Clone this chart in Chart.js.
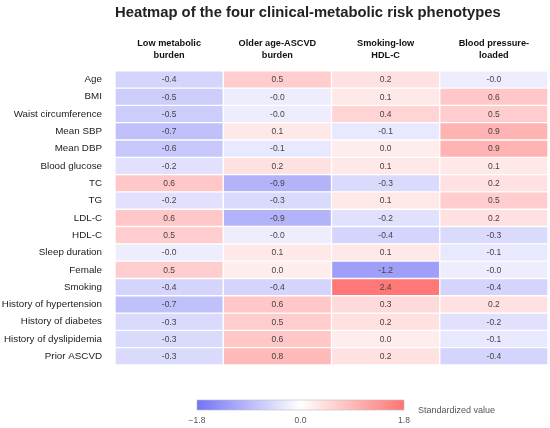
<!DOCTYPE html>
<html lang="en">
<head>
    <meta charset="UTF-8">
    <title>Heatmap of the four clinical-metabolic risk phenotypes</title>
    <script src="https://cdn.jsdelivr.net/npm/chart.js"></script>
    <style>
        html, body { margin: 0; padding: 0; background: #fff; }
        #wrap { width: 550px; height: 428px; }
    </style>
</head>
<body>
    <div id="wrap"><canvas id="myChart"></canvas></div>
    <script>
    const variables = ['Age', 'BMI', 'Waist circumference', 'Mean SBP', 'Mean DBP', 'Blood glucose',
        'TC', 'TG', 'LDL-C', 'HDL-C', 'Sleep duration', 'Female', 'Smoking',
        'History of hypertension', 'History of diabetes', 'History of dyslipidemia', 'Prior ASCVD'];

    const phenotypes = [
        ['Low metabolic', 'burden'],
        ['Older age-ASCVD', 'burden'],
        ['Smoking-low', 'HDL-C'],
        ['Blood pressure-', 'loaded']
    ];

    // standardized values per phenotype, same order as variables
    const lowMetabolic = [-0.4, -0.5, -0.5, -0.7, -0.6, -0.2, 0.6, -0.2, 0.6, 0.5, -0.02, 0.5, -0.4, -0.7, -0.3, -0.3, -0.3];
    const olderAscvd   = [0.5, -0.02, -0.02, 0.1, -0.1, 0.2, -0.9, -0.3, -0.9, -0.02, 0.1, 0.02, -0.4, 0.6, 0.5, 0.6, 0.8];
    const smokingHdl   = [0.2, 0.1, 0.4, -0.1, 0.02, 0.1, -0.3, 0.1, -0.2, -0.4, 0.1, -1.2, 2.4, 0.3, 0.2, 0.02, 0.2];
    const bpLoaded     = [-0.02, 0.6, 0.5, 0.9, 0.9, 0.1, 0.2, 0.5, 0.2, -0.3, -0.1, -0.02, -0.4, 0.2, -0.2, -0.1, -0.4];

    const columns = [lowMetabolic, olderAscvd, smokingHdl, bpLoaded];

    const vmin = -1.8, vmax = 1.8;
    const colorbarTicks = [-1.8, 0.0, 1.8];

    // blue-white-red, faded towards white
    function rgbFor(v, strength) {
        const d = Math.round(140 * strength);
        if (v < 0) return `rgb(${255 - d}, ${255 - d}, ${255 - Math.round(d * 0.06)})`;
        return `rgb(255, ${255 - d}, ${255 - d})`;
    }
    function cellColor(v) {
        const t = Math.min(1, Math.abs(v) / vmax);
        return rgbFor(v, v === 0 ? 0 : 0.12 + 0.85 * t);
    }
    function barColor(v) {
        return rgbFor(v, Math.min(1, Math.abs(v) / vmax));
    }

    const datasets = columns.map((vals, c) => ({
        label: phenotypes[c].join(' '),
        data: vals.map(() => [c, c + 1]),
        values: vals,
        backgroundColor: vals.map(cellColor),
        borderColor: '#ffffff',
        borderWidth: 1,
        borderSkipped: false,
        grouped: false,
        barPercentage: 1,
        categoryPercentage: 1
    }));

    const cellLabels = {
        id: 'cellLabels',
        afterDatasetsDraw(chart) {
            const ctx = chart.ctx;
            ctx.save();
            ctx.font = '8.5px "Liberation Sans", Arial, sans-serif';
            ctx.fillStyle = '#444';
            ctx.textAlign = 'center';
            ctx.textBaseline = 'middle';
            chart.data.datasets.forEach((ds, i) => {
                chart.getDatasetMeta(i).data.forEach((bar, j) => {
                    const cx = (bar.x + bar.base) / 2;
                    ctx.fillText(ds.values[j].toFixed(1), cx, bar.y + 0.5);
                });
            });
            ctx.restore();
        }
    };

    const colorbar = {
        id: 'colorbar',
        afterDraw(chart) {
            const ctx = chart.ctx;
            const x0 = 197, x1 = 404, y0 = 400, h = 10;
            const grad = ctx.createLinearGradient(x0, 0, x1, 0);
            for (let k = 0; k <= 20; k++) {
                const v = vmin + (vmax - vmin) * k / 20;
                grad.addColorStop(k / 20, barColor(v));
            }
            ctx.save();
            ctx.fillStyle = grad;
            ctx.fillRect(x0, y0, x1 - x0, h);
            ctx.strokeStyle = '#bbb';
            ctx.lineWidth = 0.6;
            ctx.strokeRect(x0, y0, x1 - x0, h);
            ctx.font = '8.5px "Liberation Sans", Arial, sans-serif';
            ctx.fillStyle = '#555';
            ctx.textAlign = 'center';
            ctx.textBaseline = 'middle';
            colorbarTicks.forEach(t => {
                const x = x0 + (t - vmin) / (vmax - vmin) * (x1 - x0);
                const txt = t < 0 ? '\u2212' + Math.abs(t).toFixed(1) : t.toFixed(1);
                ctx.fillText(txt, x, y0 + h + 11);
            });
            ctx.textAlign = 'left';
            ctx.font = '9px "Liberation Sans", Arial, sans-serif';
            ctx.fillText('Standardized value', 418, y0 + h + 1);
            ctx.restore();
        }
    };

    const ctx = document.getElementById('myChart').getContext('2d');
    const myChart = new Chart(ctx, {
        type: 'bar',
        data: { labels: variables, datasets: datasets },
        options: {
            indexAxis: 'y',
            responsive: true,
            maintainAspectRatio: false,
            animation: false,
            layout: { padding: { left: 0, right: 2, top: 0, bottom: 63 } },
            plugins: {
                legend: { display: false },
                tooltip: { enabled: false },
                title: {
                    display: true,
                    fullSize: false,
                    align: 'start',
                    text: 'Heatmap of the four clinical-metabolic risk phenotypes',
                    color: '#222',
                    font: { family: '"Liberation Sans", Arial, sans-serif', size: 14.8, weight: 'bold' },
                    padding: { top: 4, bottom: 8 }
                }
            },
            scales: {
                x: {
                    type: 'linear',
                    position: 'top',
                    min: 0,
                    max: 4,
                    grid: { display: false },
                    border: { display: false },
                    afterBuildTicks: scale => {
                        scale.ticks = phenotypes.map((p, i) => ({ value: i + 0.5 }));
                    },
                    afterFit: scale => { scale.height = 41; },
                    ticks: {
                        maxRotation: 0,
                        autoSkip: false,
                        padding: 2,
                        color: '#111',
                        font: { family: '"Liberation Sans", Arial, sans-serif', size: 9.2, weight: 'bold', lineHeight: 1.25 },
                        callback: (value, index) => phenotypes[index]
                    }
                },
                y: {
                    grid: { display: false },
                    border: { display: false },
                    afterFit: scale => { scale.width = 115; },
                    ticks: {
                        padding: 5,
                        color: '#222',
                        font: { family: '"Liberation Sans", Arial, sans-serif', size: 9.8 }
                    }
                }
            }
        },
        plugins: [cellLabels, colorbar]
    });
    </script>
</body>
</html>
